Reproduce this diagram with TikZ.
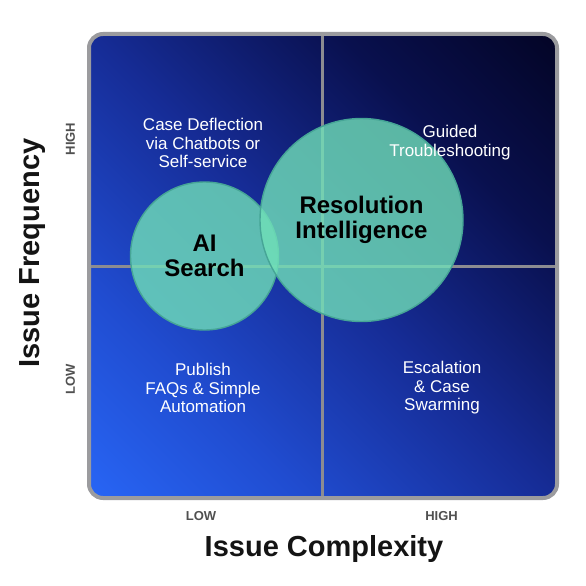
\documentclass[tikz,border=0pt]{standalone}
\usepackage{fontspec}
\setmainfont{Liberation Sans}
\definecolor{bgbright}{RGB}{40,102,246}
\definecolor{bgbm}{RGB}{32,76,208}
\definecolor{bgmid}{RGB}{22,44,150}
\definecolor{bgmd}{RGB}{9,16,78}
\definecolor{bgdark}{RGB}{3,4,36}
\definecolor{gridgray}{RGB}{140,140,145}
\definecolor{framegray}{RGB}{155,155,158}
\definecolor{tealfill}{RGB}{112,224,184}
\definecolor{tealedge}{RGB}{70,165,150}
\definecolor{axislbl}{RGB}{80,80,80}
\definecolor{titlecol}{RGB}{20,20,20}
\pgfdeclareverticalshading{panelshade}{100bp}{color(0bp)=(bgbright); color(14bp)=(bgbright); color(31bp)=(bgbm); color(50bp)=(bgmid); color(69bp)=(bgmd); color(86bp)=(bgdark); color(100bp)=(bgdark)}
\begin{document}
\begin{tikzpicture}[x=1pt,y=-1pt,
  quadtext/.style={text=white, align=center, font=\fontsize{17}{18.5}\selectfont},
  bubble/.style={circle, fill=tealfill, fill opacity=0.8, draw=tealedge, line width=1.4pt},
  bubbletext/.style={text=black, align=center, font=\bfseries\fontsize{24}{25}\selectfont},
  ticklbl/.style={text=axislbl, font=\bfseries\fontsize{13}{14}\selectfont},
  axistitle/.style={text=titlecol, font=\bfseries\fontsize{29}{30}\selectfont},
  gridline/.style={draw=gridgray, line width=3pt}]
\useasboundingbox (0,0) rectangle (586,586);
% panel
\shade[rounded corners=14pt, shading=panelshade, shading angle=-45] (89,34) rectangle (557,498);
% grid lines
\coordinate (vt) at (322,35);
\coordinate (vb) at (322,497);
\coordinate (hl) at (90,266);
\coordinate (hr) at (556,266);
\draw[gridline] (vt) -- (vb);
\draw[gridline] (hl) -- (hr);
% frame
\draw[draw=framegray, line width=4pt, rounded corners=14pt] (89,34) rectangle (557,498);
% bubbles
\node[bubble, minimum size=148pt, inner sep=0pt] (ai) at (204.5,256) {};
\node[bubble, minimum size=203pt, inner sep=0pt] (ri) at (361.5,220) {};
\node[bubbletext] (ait) at (ai.center) {AI\\Search};
\node[bubbletext] (rit) at (ri.center) {Resolution\\Intelligence};
% quadrant texts
\node[quadtext] (q1) at (203,143) {Case Deflection\\via Chatbots or\\Self-service};
\node[quadtext] (q2) at (450,142.5) {Guided\\Troubleshooting};
\node[quadtext] (q3) at (203,388) {Publish\\FAQs \& Simple\\Automation};
\node[quadtext] (q4) at (442,388) {Escalation\\\& Case\\Swarming};
% axis labels
\node[ticklbl] (xlow) at (201,516) {LOW};
\node[ticklbl] (xhigh) at (441.5,516) {HIGH};
\node[axistitle] (xt) at (324,549) {Issue Complexity};
\node[ticklbl, rotate=90] (yhigh) at (70.5,139) {HIGH};
\node[ticklbl, rotate=90] (ylow) at (70.5,379.5) {LOW};
\node[axistitle, rotate=90] (yt) at (33,253) {Issue Frequency};
\end{tikzpicture}
\end{document}
